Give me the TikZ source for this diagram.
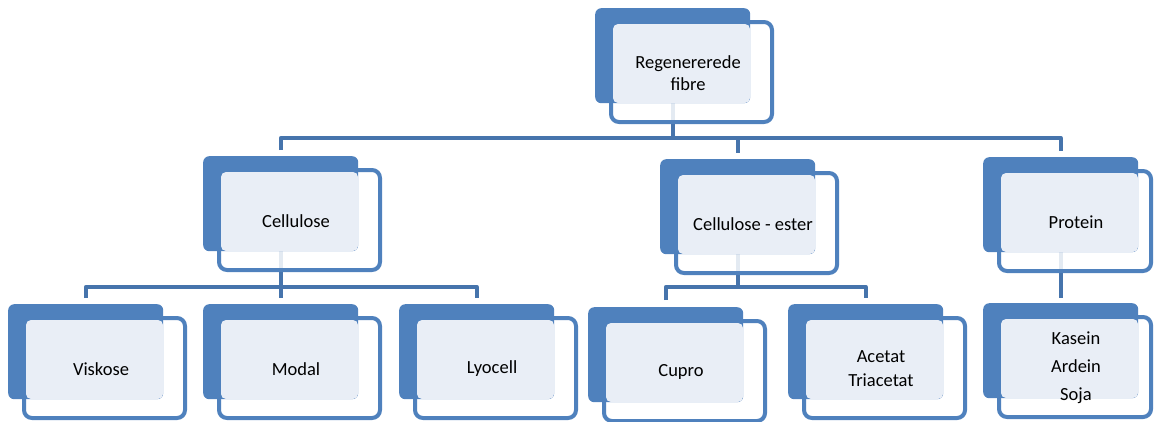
\documentclass[tikz,border=0pt]{standalone}
\usepackage{fontspec}
\setmainfont{Carlito}
\pgfdeclarelayer{background}
\pgfsetlayers{background,main}
\definecolor{boxblue}{HTML}{4F81BD}
\definecolor{lightfill}{HTML}{E9EEF6}
\definecolor{linkblue}{HTML}{4674AC}
\tikzset{
 backbox/.style={fill=boxblue, rounded corners=6pt, minimum width=155pt, minimum height=95pt, inner sep=0pt, anchor=north west},
 frontbox/.style={draw=boxblue, line width=4pt, fill=white, fill opacity=0.85, rounded corners=8pt},
 lightbox/.style={fill=lightfill, rounded corners=5pt},
 lbl/.style={font=\fontsize{18.5}{22}\selectfont, align=center, text=black},
 conn/.style={draw=linkblue, line width=4pt, line join=round},
}
\newcommand\fibrebox[5][161]{%
 \draw[frontbox] (#3+16,#4+14) rectangle (#3+16+#1,#4+114);
 \node[backbox] (#2) at (#3,#4) {};
 \fill[lightbox] (#3+18,#4+16) rectangle (#3+155,#4+95);
 \node[lbl] (#2-t) at (#3+93,#4+65) {#5};
}
\begin{document}
\begin{tikzpicture}[x=1pt,y=-1pt]
\useasboundingbox (0,0) rectangle (1155,421);
\fibrebox{top}{595}{8}{Regenererede\\fibre}
\fibrebox{cel}{203}{156}{Cellulose}
\fibrebox{cest}{660}{159}{Cellulose - ester}
\fibrebox[152]{prot}{983}{157}{Protein}
\fibrebox{visk}{8}{304}{Viskose}
\fibrebox{modal}{203}{304}{Modal}
\fibrebox{lyo}{399}{304}{Lyocell}
\fibrebox{cupro}{588}{307}{Cupro}
\fibrebox{acet}{788}{304}{Acetat\\[2pt]Triacetat}
\fibrebox[152]{kas}{983}{303}{Kasein\\[6pt]Ardein\\[6pt]Soja}
\begin{pgfonlayer}{background}
\coordinate (bus1) at (0,138);
\coordinate (bus2) at (0,287);
\draw[conn] (top.south) -- (top.south |- bus1);
\draw[conn] ([yshift=6pt]cel.north) -- (cel.north |- bus1) -- (prot.north |- bus1) -- ([yshift=6pt]prot.north);
\draw[conn] (cest.north |- bus1) -- ([yshift=6pt]cest.north);
\draw[conn] (cel.south) -- (cel.south |- bus2);
\draw[conn] ([yshift=6pt]visk.north) -- (visk.north |- bus2) -- (lyo.north |- bus2) -- ([yshift=6pt]lyo.north);
\draw[conn] (modal.north |- bus2) -- ([yshift=6pt]modal.north);
\draw[conn] (cest.south) -- (cest.south |- bus2);
\draw[conn] ([yshift=7pt]cupro.north) -- (cupro.north |- bus2) -- (acet.north |- bus2) -- ([yshift=6pt]acet.north);
\draw[conn] (prot.south) -- ([yshift=5pt]kas.north);
\end{pgfonlayer}
\end{tikzpicture}
\end{document}
